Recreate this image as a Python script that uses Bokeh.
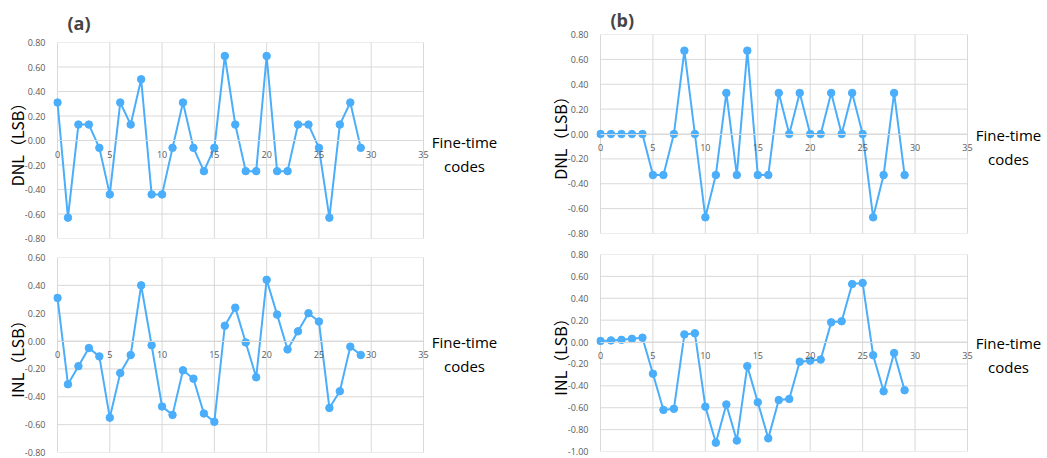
from bokeh.plotting import figure
from bokeh.layouts import row, column
from bokeh.models import FixedTicker, NumeralTickFormatter, Label
from bokeh.embed import file_html
from bokeh.resources import INLINE

codes = list(range(30))
dnl_a = [0.31, -0.63, 0.13, 0.13, -0.06, -0.44, 0.31, 0.13, 0.50, -0.44,
         -0.44, -0.06, 0.31, -0.06, -0.25, -0.06, 0.69, 0.13, -0.25, -0.25,
         0.69, -0.25, -0.25, 0.13, 0.13, -0.06, -0.63, 0.13, 0.31, -0.06]
inl_a = [0.31, -0.31, -0.18, -0.05, -0.11, -0.55, -0.23, -0.10, 0.40, -0.03,
         -0.47, -0.53, -0.21, -0.27, -0.52, -0.58, 0.11, 0.24, -0.01, -0.26,
         0.44, 0.19, -0.06, 0.07, 0.20, 0.14, -0.48, -0.36, -0.04, -0.10]
dnl_b = [0.0, 0.0, 0.0, 0.0, 0.0, -0.33, -0.33, 0.0, 0.67, 0.0,
         -0.67, -0.33, 0.33, -0.33, 0.67, -0.33, -0.33, 0.33, 0.0, 0.33,
         0.0, 0.0, 0.33, 0.0, 0.33, 0.0, -0.67, -0.33, 0.33, -0.33]
inl_b = [0.01, 0.015, 0.02, 0.03, 0.04, -0.29, -0.62, -0.61, 0.07, 0.08,
         -0.59, -0.92, -0.57, -0.90, -0.22, -0.55, -0.88, -0.53, -0.52, -0.18,
         -0.17, -0.16, 0.18, 0.19, 0.53, 0.54, -0.12, -0.45, -0.10, -0.44]

x_ticks = [0, 5, 10, 15, 20, 25, 30, 35]
y_ticks_dnl = [-0.8, -0.6, -0.4, -0.2, 0.0, 0.2, 0.4, 0.6, 0.8]
y_ticks_inl_a = [-0.8, -0.6, -0.4, -0.2, 0.0, 0.2, 0.4, 0.6]
y_ticks_inl_b = [-1.0, -0.8, -0.6, -0.4, -0.2, 0.0, 0.2, 0.4, 0.6, 0.8]

BLUE = "#4aaefb"
GRID = "#d9d9d9"
TICK = "#595959"
FONT = "Open Sans"
CJK = "Noto Sans CJK SC"


def panel(y, yticks, ylabel, width, height, bt, bb, xr, title=None, toff=0, tstand=6):
    xmin, xmax = x_ticks[0], x_ticks[-1]
    ymin, ymax = yticks[0], yticks[-1]
    p = figure(width=width, height=height, x_range=xr,
               y_range=(ymin, ymax),
               output_backend="svg", toolbar_location=None,
               min_border_left=53, min_border_right=0,
               min_border_top=bt, min_border_bottom=bb)
    if title:
        p.title.text = title
        p.title.text_font = FONT
        p.title.text_font_size = "18px"
        p.title.text_font_style = "bold"
        p.title.align = "left"
        p.title.offset = toff
        p.title.standoff = tstand
    p.outline_line_color = None
    p.background_fill_color = "white"
    p.border_fill_color = "white"
    p.grid.visible = False

    # grid lines limited to the plotting area 0..35
    p.segment(x0=x_ticks, y0=[ymin] * len(x_ticks), x1=x_ticks, y1=[ymax] * len(x_ticks),
              line_color=GRID, line_width=1)
    p.segment(x0=[xmin] * len(yticks), y0=yticks, x1=[xmax] * len(yticks), y1=yticks,
              line_color=GRID, line_width=1)

    xa = p.xaxis[0]
    xa.fixed_location = 0
    xa.bounds = (xmin, xmax)
    xa.ticker = FixedTicker(ticks=x_ticks)
    xa.axis_line_color = GRID
    xa.major_tick_line_color = None
    xa.minor_tick_line_color = None
    xa.major_tick_out = 0
    xa.major_tick_in = 0
    xa.major_label_text_font = FONT
    xa.major_label_text_font_size = "9px"
    xa.major_label_text_color = TICK
    xa.major_label_standoff = 10

    ya = p.yaxis[0]
    ya.ticker = FixedTicker(ticks=yticks)
    ya.formatter = NumeralTickFormatter(format="0.00")
    ya.axis_line_color = None
    ya.major_tick_line_color = None
    ya.minor_tick_line_color = None
    ya.major_tick_out = 0
    ya.major_tick_in = 0
    ya.major_label_text_font = FONT
    ya.major_label_text_font_size = "9px"
    ya.major_label_text_color = TICK
    ya.major_label_standoff = 8
    ya.axis_label = ylabel
    ya.axis_label_text_font = CJK
    ya.axis_label_text_font_size = "16px"
    ya.axis_label_text_font_style = "normal"
    ya.axis_label_text_color = "#000000"
    ya.axis_label_standoff = -7

    p.line(codes, y, line_color=BLUE, line_width=2)
    p.scatter(codes, y, size=7.5, fill_color=BLUE, line_color=BLUE)

    for txt, dy in (("Fine-time", -1), ("codes", -25)):
        p.add_layout(Label(x=xmax, y=0, x_offset=41, y_offset=dy, text=txt,
                           text_align="center", text_baseline="middle",
                           text_font=FONT, text_font_size="15px",
                           text_color="#000000"))
    return p


# x ranges chosen so that 0 and 35 fall where the reference puts them
sa = (423 - 57) / 35.0
xr_a = ((53 - 57) / sa, (543 - 57) / sa)
sb = (967 - 600) / 35.0
xr_b = ((596 - 600) / sb, (1047 - 600) / sb)

a1 = panel(dnl_a, y_ticks_dnl, "DNL（LSB）", 543, 247, 42, 9, xr_a, "(a)", 14, 16)
a2 = panel(inl_a, y_ticks_inl_a, "INL（LSB）", 543, 211, 10, 6, xr_a)
b1 = panel(dnl_b, y_ticks_dnl, "DNL（LSB）", 504, 242, 34, 9, xr_b, "(b)", 14, 6)
b2 = panel(inl_b, y_ticks_inl_b, "INL（LSB）", 504, 216, 12, 7, xr_b)

layout = row(column(a1, a2), column(b1, b2))
open("out.html", "w").write(file_html(layout, INLINE))
